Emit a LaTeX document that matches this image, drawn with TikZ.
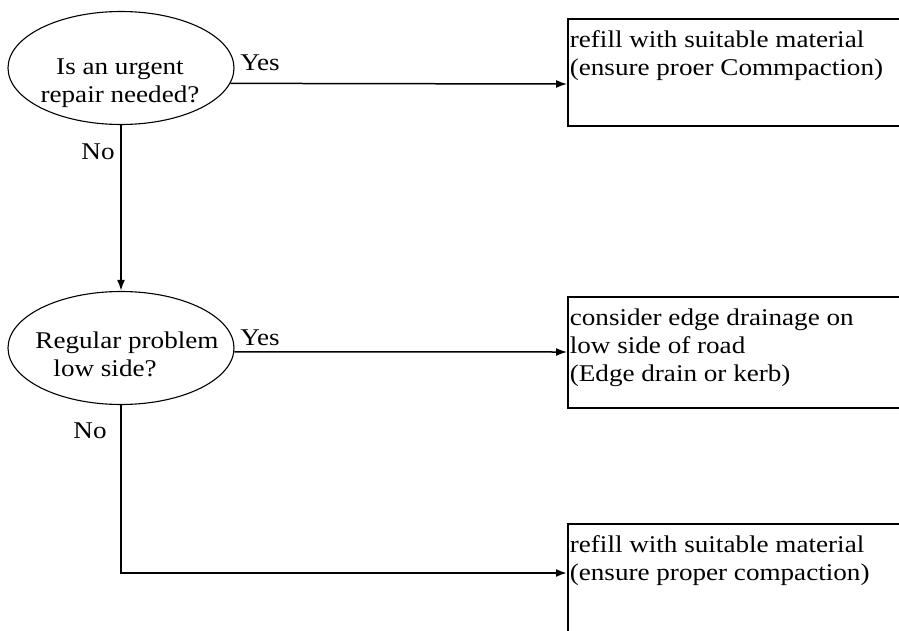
\documentclass[tikz,border=0pt]{standalone}
\usepackage{fontspec}
\setmainfont{Liberation Serif}[FakeStretch=1.13]
\usetikzlibrary{shapes.geometric,arrows.meta}
\newcommand\flowfont{\fontsize{24pt}{28pt}\selectfont}
\begin{document}
\begin{tikzpicture}[x=1pt,y=-1pt,
  decision/.style={ellipse,draw,line width=1.1pt,minimum width=226pt,minimum height=113pt,inner sep=0pt},
  qtext/.style={inner sep=0pt,font=\flowfont},
  tag/.style={inner sep=0pt,font=\flowfont},
  actbox/.style={draw,line width=1.7pt,anchor=north west,inner xsep=2pt,inner ysep=0pt,font=\flowfont},
  flow/.style={line width=1.5pt,-{Latex[length=11pt,width=8pt]}}]
\clip (0,0) rectangle (899,631);

% decisions
\node[decision] (q1) at (121,68) {};
\node[qtext,align=center] (q1t) at (120,83) {Is an urgent\\repair needed?};
\node[decision] (q2) at (121,348) {};
\node[qtext,align=left] (q2t) at (127,354) {Regular problem\\\hspace*{18pt}low side?};

% actions
\node[actbox] (b1) at (567,18) {\parbox[t][107pt][t]{330pt}{\rule{0pt}{29pt}refill with suitable material\\(ensure proer Commpaction)}};
\node[actbox] (b2) at (567,296) {\parbox[t][111pt][t]{330pt}{\rule{0pt}{29pt}consider edge drainage on\\low side of road\\(Edge drain or kerb)}};
\node[actbox] (b3) at (567,523) {\parbox[t][140pt][t]{330pt}{\rule{0pt}{29pt}refill with suitable material\\(ensure proper compaction)}};

% branch labels
\node[tag,anchor=base] (y1) at (260,71) {Yes};
\node[tag,anchor=base] (y2) at (260,345) {Yes};
\node[tag] (n1) at (98,152) {No};
\node[tag] (n2) at (90,431) {No};

% connectors
\draw[flow] (q1.-8.5) -- ([yshift=-66pt]b1.north west);
\draw[flow,line width=1.9pt] (q1.south) -- (q2.north);
\draw[flow] (q2.-2.2) -- ([yshift=-56pt]b2.north west);
\draw[flow,line width=1.9pt] (q2.south) |- ([yshift=-50pt]b3.north west);
\end{tikzpicture}
\end{document}
